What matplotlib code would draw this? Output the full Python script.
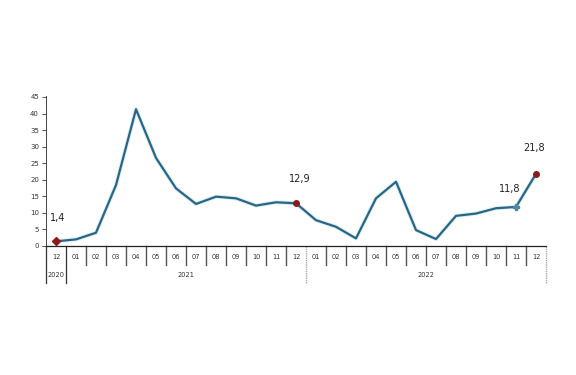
import numpy as np
import matplotlib
matplotlib.use('Agg')
import matplotlib.pyplot as plt
import matplotlib.patheffects as pe

months = ['12', '01', '02', '03', '04', '05', '06', '07', '08', '09', '10', '11', '12',
          '01', '02', '03', '04', '05', '06', '07', '08', '09', '10', '11', '12']
values = [1.4, 2.0, 4.0, 18.4, 41.3, 26.6, 17.4, 12.7, 14.9, 14.4, 12.2, 13.2, 12.9,
          7.8, 5.8, 2.3, 14.4, 19.4, 4.8, 2.1, 9.1, 9.8, 11.4, 11.8, 21.8]
years = ['2020', '2021', '2022']
year_spans = [(0, 0), (1, 12), (13, 24)]
labelled = {0: '1,4', 12: '12,9', 23: '11,8', 24: '21,8'}

line_col = '#2b6584'
red = '#8c1b1b'

fig = plt.figure(figsize=(5.76, 3.75), dpi=100)
ax = fig.add_axes([46/576, 1-246/375, 500/576, 150/375])

x = np.arange(len(values))
ax.plot(x, values, color=line_col, lw=1.6, solid_joinstyle='round',
        path_effects=[pe.Stroke(linewidth=3.0, foreground='#dceff5'), pe.Normal()])

for i in [0, 12, 24]:
    ax.plot(x[i], values[i], marker='D' if i == 0 else 'o', ms=4, color=red, zorder=5)
ax.plot(x[23], values[23], marker='P', ms=4, color='#4f87a3', zorder=5)

offsets = {0: (2, 18), 12: (4, 19), 23: (-6, 13), 24: (-2, 21)}
for i, t in labelled.items():
    ax.annotate(t, (x[i], values[i]), textcoords='offset pixels', xytext=offsets[i],
                ha='center', va='bottom', fontsize=7, color='#222222')

ax.set_xlim(-0.5, 24.5)
ax.set_ylim(0, 45.3)
ax.set_yticks(np.arange(0, 46, 5))
ax.tick_params(axis='y', labelsize=5, length=3, width=0.6, colors='#333333', pad=2)
ax.set_xticks([])
for s in ['top', 'right']:
    ax.spines[s].set_visible(False)
ax.spines['left'].set_color('#444444')
ax.spines['left'].set_linewidth(0.7)
ax.spines['bottom'].set_color('#222222')
ax.spines['bottom'].set_linewidth(0.9)

tr = ax.get_xaxis_transform()
for k in range(len(months) - 1):
    xs = k + 0.5
    if xs in (0.5, 12.5):
        continue
    ax.plot([xs, xs], [0, -0.127], transform=tr, clip_on=False, color='#555555', lw=1.0)
for xs in [-0.5, 0.5]:
    ax.plot([xs, xs], [0, -0.247], transform=tr, clip_on=False, color='#333333', lw=0.9)
for xs in [12.5, 24.5]:
    ax.plot([xs, xs], [0, -0.247], transform=tr, clip_on=False, color='#aaaaaa', lw=1.0, ls=(0, (1, 0.6)))

for k, m in enumerate(months):
    ax.text(k, -0.073, m, transform=tr, ha='center', va='center', fontsize=4.8, color='#333333')
for yr, (a, b) in zip(years, year_spans):
    ax.text((a + b) / 2, -0.193, yr, transform=tr, ha='center', va='center', fontsize=4.8, color='#333333')

fig.savefig('out.png', dpi=100)
